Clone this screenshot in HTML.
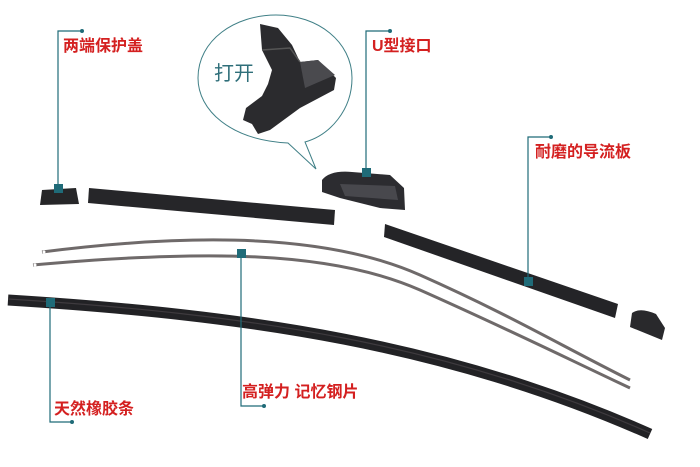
<!DOCTYPE html>
<html><head><meta charset="utf-8"><style>
html,body{margin:0;padding:0;background:#fff;}
svg{display:block}
text{font-family:"Liberation Sans","Noto Sans CJK SC",sans-serif;}
</style></head><body>
<svg width="700" height="467" viewBox="0 0 700 467" xmlns="http://www.w3.org/2000/svg">
<rect width="700" height="467" fill="#fff"/>
<!-- bubble -->
<path d="M288,143 C230,140 198,110 198,78 C198,40 235,15 276,15 C318,15 352,42 352,78 C352,110 330,135 305,142 L316,169 Z" fill="#fff" stroke="#3f7f86" stroke-width="1"/>
<text x="214" y="80" font-size="20" fill="#2f6f7a">打开</text>
<!-- clip image inside bubble -->
<path d="M260,24 L278,28 L292,45 L300,62 L318,60 L336,78 L334,90 L300,108 L270,130 L258,134 L252,124 L243,120 L246,108 L262,96 L268,84 L272,70 L262,50 Z" fill="#2b2b2e"/>
<path d="M300,62 L318,60 L335,75 L305,88 Z" fill="#4a4a4e"/>
<path d="M262,50 L290,48 L300,62" fill="none" stroke="#555" stroke-width="1.5"/>
<!-- end cap left -->
<path d="M42,190 L76,188 L79,204 L40,205 Z" fill="#262628"/>
<!-- left spoiler -->
<path d="M89,188 L335,210 L334,225 L88,203 Z" fill="#262629"/>
<!-- connector -->
<path d="M322,180 Q330,170 352,172 L390,175 L404,188 L405,210 L380,208 L340,198 L322,192 Z" fill="#2c2c30"/>
<path d="M340,184 L395,186 L398,200 L345,196 Z" fill="#48484d"/>
<!-- right spoiler -->
<path d="M385,224 L618,304 L615,318 L384,237 Z" fill="#242427"/>
<!-- right end cap -->
<path d="M632,313 Q640,307 656,314 L665,328 L662,340 L630,327 Z" fill="#29292c"/>
<!-- steel strips -->
<path d="M42,252 C200,232 330,235 420,275 S560,345 630,380" fill="none" stroke="#6f6a6a" stroke-width="3"/>
<path d="M33,265 C200,250 330,250 420,290 S560,355 630,388" fill="none" stroke="#6f6a6a" stroke-width="3"/>
<circle cx="44" cy="252" r="1.5" fill="#fff"/><circle cx="35" cy="265" r="1.5" fill="#fff"/>
<!-- rubber -->
<path d="M8,300 C250,315 450,345 650,434" fill="none" stroke="#222225" stroke-width="11"/>
<path d="M8,299 C250,314 450,344 650,433" fill="none" stroke="#3e3a3e" stroke-width="1.2"/>
<!-- leader lines -->
<g stroke="#1f6b78" stroke-width="1.2" fill="none">
<path d="M82,31 H58 V190"/>
<path d="M390,31 H366 V174"/>
<path d="M551,137 H528 V281"/>
<path d="M241,253 V406 H264"/>
<path d="M50,302 V422 H72"/>
</g>
<g fill="#1f6b78">
<circle cx="82" cy="31" r="2"/><rect x="54" y="184" width="9" height="9"/>
<circle cx="390" cy="31" r="2"/><rect x="362" y="168" width="9" height="9"/>
<circle cx="551" cy="137" r="2"/><rect x="524" y="277" width="9" height="9"/>
<circle cx="264" cy="406" r="2"/><rect x="237" y="249" width="9" height="9"/>
<circle cx="72" cy="422" r="2"/><rect x="46" y="298" width="9" height="9"/>
</g>
<g font-size="16" font-weight="bold" fill="#d42020">
<text x="63" y="51">两端保护盖</text>
<text x="372" y="51">U型接口</text>
<text x="535" y="157">耐磨的导流板</text>
<text x="242" y="397">高弹力 记忆钢片</text>
<text x="54" y="414">天然橡胶条</text>
</g>
</svg>
</body></html>
